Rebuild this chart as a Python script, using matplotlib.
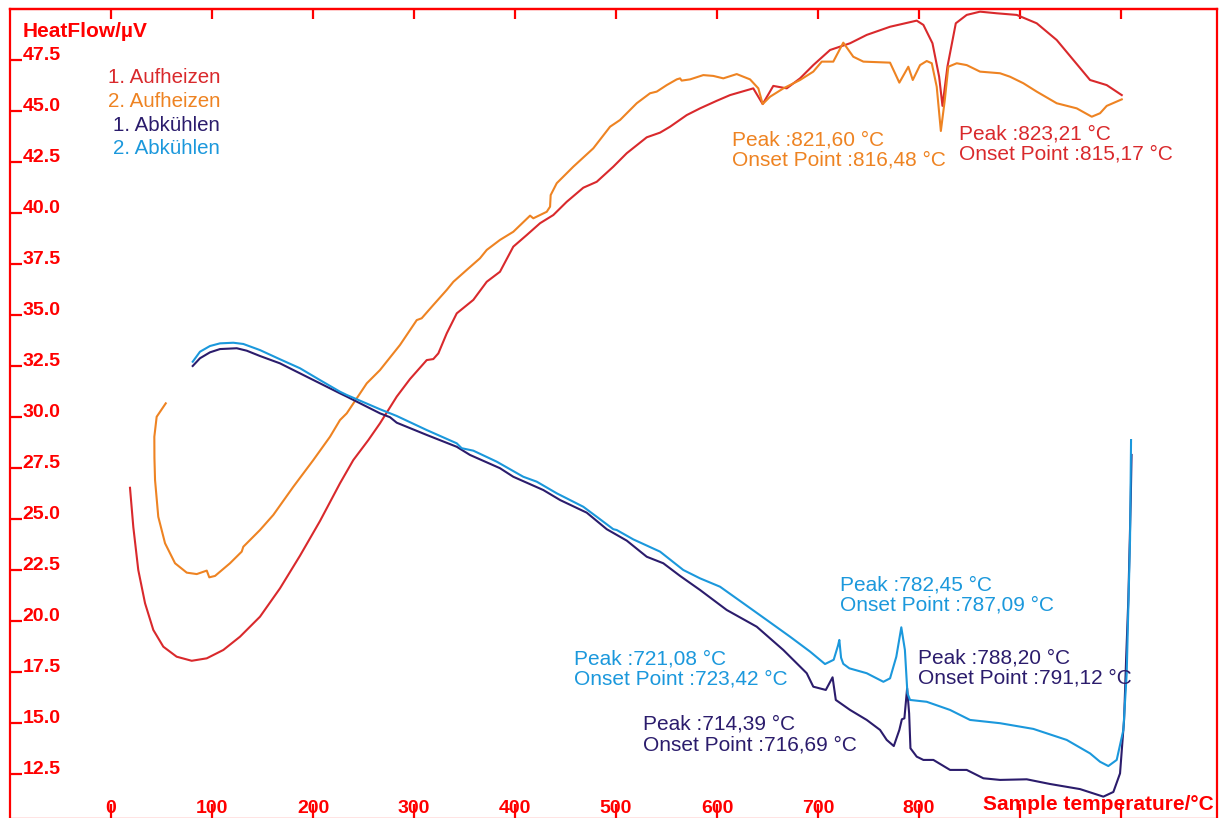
import matplotlib
matplotlib.use("Agg")
import matplotlib.pyplot as plt
import matplotlib.transforms as mtransforms

plt.rcParams['font.family'] = ['Liberation Sans', 'DejaVu Sans']

# ---- measurement data: sample temperature (°C) vs heat flow (µV) ----
heat1_T = [18.8, 22.1, 27.0, 33.7, 41.9, 51.8, 65.0, 79.9, 94.8, 111.2,
           127.7, 147.5, 167.3, 187.1, 206.9, 226.7, 239.9, 254.8, 266.3, 282.9,
           296.0, 312.6, 319.1, 324.1, 332.4, 342.3, 358.7, 372.0, 385.1, 398.3,
           411.6, 424.8, 437.9, 451.2, 467.6, 480.9, 497.3, 510.6, 530.4, 543.6,
           553.5, 570.0, 583.2, 599.7, 612.9, 635.9, 645.2, 655.7, 669.0, 682.2,
           695.3, 711.9, 731.7, 748.2, 771.3, 797.7, 804.3, 813.3, 819.9, 823.21,
           828.1, 836.4, 847.2, 860.4, 876.9, 896.7, 916.5, 936.3, 952.8, 969.3,
           985.8, 1000.7]
heat1_V = [26.53, 24.60, 22.50, 20.87, 19.56, 18.74, 18.25, 18.05, 18.17, 18.58,
           19.23, 20.21, 21.60, 23.20, 24.90, 26.75, 27.89, 28.87, 29.69, 31.00,
           31.86, 32.79, 32.84, 33.12, 34.10, 35.08, 35.74, 36.63, 37.12, 38.35,
           38.92, 39.50, 39.90, 40.55, 41.24, 41.53, 42.27, 42.93, 43.71, 43.94,
           44.23, 44.80, 45.13, 45.50, 45.78, 46.11, 45.34, 46.23, 46.11, 46.60,
           47.25, 47.99, 48.32, 48.73, 49.13, 49.43, 49.22, 48.32, 46.68, 45.25,
           47.17, 49.30, 49.71, 49.87, 49.79, 49.71, 49.30, 48.48, 47.50, 46.52,
           46.27, 45.78]

heat2_T = [54.2, 45.2, 42.9, 43.0, 43.6, 46.8, 53.5, 63.4, 75.0, 84.9,
           94.8, 97.3, 103.0, 117.8, 129.4, 131.0, 147.5, 160.7, 180.5, 200.3,
           216.8, 226.7, 233.4, 253.2, 266.3, 286.1, 302.7, 307.6, 319.1, 332.4,
           339.0, 352.2, 365.3, 372.0, 385.1, 398.3, 414.9, 418.1, 431.4, 434.7,
           435.3, 441.3, 457.7, 477.5, 494.1, 504.0, 520.5, 533.7, 540.3, 550.2,
           560.1, 563.4, 565.0, 573.3, 586.4, 596.3, 606.2, 619.5, 632.7, 640.9,
           645.2, 652.5, 665.7, 682.2, 695.3, 703.7, 715.1, 725.0, 734.9, 744.9,
           771.3, 776.2, 780.5, 789.4, 793.8, 801.0, 807.6, 812.6, 817.5, 821.60,
           825.5, 829.0, 837.3, 847.2, 860.4, 880.2, 890.1, 903.3, 916.5, 936.3,
           956.1, 971.0, 979.2, 985.8, 1000.7]
heat2_V = [30.67, 30.01, 29.03, 27.99, 26.91, 25.11, 23.81, 22.83, 22.37, 22.30,
           22.47, 22.14, 22.21, 22.83, 23.40, 23.64, 24.46, 25.20, 26.58, 27.89,
           29.03, 29.85, 30.18, 31.65, 32.30, 33.53, 34.75, 34.84, 35.49, 36.23,
           36.63, 37.21, 37.78, 38.19, 38.68, 39.08, 39.87, 39.74, 40.06, 40.31,
           40.88, 41.46, 42.27, 43.17, 44.23, 44.56, 45.38, 45.87, 45.95, 46.27,
           46.55, 46.60, 46.49, 46.55, 46.76, 46.72, 46.60, 46.81, 46.55, 46.11,
           45.34, 45.70, 46.11, 46.52, 46.93, 47.42, 47.42, 48.35, 47.66, 47.42,
           47.37, 46.85, 46.39, 47.17, 46.52, 47.25, 47.45, 47.34, 46.19, 44.02,
           45.54, 47.17, 47.34, 47.25, 46.93, 46.85, 46.68, 46.36, 45.95, 45.38,
           45.13, 44.72, 44.89, 45.25, 45.57]

cool1_T = [80.9, 88.1, 98.0, 107.9, 124.5, 134.4, 147.5, 167.3, 187.1, 206.9,
           226.7, 233.4, 266.3, 276.2, 282.9, 312.6, 342.3, 355.4, 385.1, 398.3,
           428.0, 444.6, 471.0, 490.8, 510.6, 530.4, 546.8, 563.4, 583.2, 609.6,
           639.3, 665.6, 688.8, 695.3, 707.7, 714.39, 717.6, 731.7, 748.2, 761.4,
           768.0, 775.0, 780.5, 783.0, 785.5, 788.20, 790.2, 791.5, 797.7, 804.3,
           814.2, 830.7, 847.2, 863.7, 880.2, 906.6, 929.7, 959.4, 982.5, 992.4,
           999.0, 1003.0, 1005.0, 1007.2, 1009.6, 1010.4]
cool1_V = [32.50, 32.88, 33.17, 33.33, 33.37, 33.25, 32.99, 32.63, 32.14, 31.65,
           31.16, 31.00, 30.18, 29.99, 29.72, 29.12, 28.54, 28.14, 27.49, 27.07,
           26.42, 25.93, 25.31, 24.50, 23.94, 23.15, 22.83, 22.21, 21.52, 20.54,
           19.72, 18.58, 17.44, 16.78, 16.62, 17.24, 16.13, 15.64, 15.15, 14.66,
           14.17, 13.87, 14.66, 15.18, 15.23, 16.70, 15.47, 13.76, 13.35, 13.19,
           13.19, 12.70, 12.70, 12.29, 12.21, 12.24, 12.01, 11.76, 11.39, 11.62,
           12.53, 15.15, 18.09, 21.03, 25.93, 28.14]

cool2_T = [80.9, 88.1, 98.0, 107.9, 121.1, 131.0, 147.5, 167.3, 187.1, 206.9,
           226.7, 233.4, 266.3, 282.9, 312.6, 342.3, 347.2, 358.7, 381.9, 408.2,
           421.5, 441.3, 467.6, 480.9, 497.3, 500.7, 517.1, 543.6, 566.6, 583.2,
           603.0, 626.0, 649.2, 672.3, 692.1, 706.9, 715.5, 719.8, 721.08, 722.8,
           725.0, 731.0, 748.2, 764.7, 771.3, 777.5, 782.45, 786.0, 788.5, 791.1,
           807.6, 830.7, 850.5, 880.2, 913.2, 946.2, 969.3, 979.2, 987.4, 995.7,
           1002.3, 1005.6, 1007.4, 1008.9, 1009.9]
cool2_V = [32.71, 33.20, 33.48, 33.61, 33.64, 33.58, 33.28, 32.83, 32.39, 31.81,
           31.24, 31.08, 30.38, 30.05, 29.36, 28.71, 28.47, 28.35, 27.81, 27.07,
           26.83, 26.26, 25.60, 25.11, 24.50, 24.46, 24.00, 23.40, 22.50, 22.09,
           21.68, 20.87, 20.05, 19.23, 18.50, 17.89, 18.10, 18.80, 19.07, 18.20,
           17.90, 17.68, 17.44, 17.02, 17.19, 18.25, 19.69, 18.58, 16.46, 16.13,
           16.04, 15.64, 15.15, 14.99, 14.71, 14.17, 13.51, 13.10, 12.89, 13.19,
           14.66, 17.44, 21.03, 23.97, 28.87]

series_names = ["1. Aufheizen", "2. Aufheizen", "1. Abkühlen", "2. Abkühlen"]
series_colors = ["#d9292c", "#ee8322", "#2b1c6c", "#1b98dc"]

# evaluated peaks: (peak °C, onset °C, label anchor T, label anchor V, series index)
peak_T = [821.60, 823.21, 782.45, 788.20, 721.08, 714.39]
onset_T = [816.48, 815.17, 787.09, 791.12, 723.42, 716.69]
label_T = [614.6, 839.9, 721.8, 798.7, 458.4, 526.7]
label_V = [43.30, 43.61, 21.49, 17.93, 17.87, 14.66]
label_series = [1, 0, 3, 2, 3, 2]

x_ticks = list(range(0, 1001, 100))
x_ticklabels = [str(t) for t in range(0, 801, 100)]
y_ticks = [12.5 + 2.5 * i for i in range(15)]

AXIS_RED = "#ff0000"

fig = plt.figure(figsize=(12.19, 8.18), dpi=100)
ax = fig.add_axes([10 / 1219, -1 / 818, 1207 / 1219, 810 / 818])
ax.set_xlim(-100, 1095)
ax.set_ylim(10.294, 50.0)

curves = [(heat1_T, heat1_V), (heat2_T, heat2_V), (cool1_T, cool1_V), (cool2_T, cool2_V)]
for (tt, vv), col in zip(curves, series_colors):
    ax.plot(tt, vv, color=col, lw=1.5, solid_joinstyle="round")

for s in ax.spines.values():
    s.set_color(AXIS_RED)
    s.set_linewidth(1.6)

ax.set_xticks(x_ticks)
ax.set_yticks(y_ticks)
ax.tick_params(axis="x", direction="in", length=11, width=1.6, color=AXIS_RED,
               bottom=True, top=False, labelbottom=False)
ax.tick_params(axis="y", direction="in", length=8.6, width=1.6, color=AXIS_RED,
               left=True, right=False, labelleft=False)

top = ax.secondary_xaxis("top")
top.set_xticks(x_ticks)
top.tick_params(direction="in", length=7.2, width=1.6, color=AXIS_RED, labeltop=False)
top.spines["top"].set_color(AXIS_RED)
top.spines["top"].set_linewidth(1.6)

# tick labels drawn inside the frame
ytrans = mtransforms.blended_transform_factory(ax.transAxes, ax.transData)
for v in y_ticks:
    ax.text(0.0105, v, f"{v:.1f}", transform=ytrans, ha="left", va="baseline",
            color=AXIS_RED, fontsize=14, fontweight="bold")
xtrans = mtransforms.blended_transform_factory(ax.transData, ax.transAxes)
for t in x_ticklabels:
    ax.text(float(t), 0.008, t, transform=xtrans, ha="center", va="baseline",
            color=AXIS_RED, fontsize=14, fontweight="bold")

ax.text(0.0105, 0.9654, "HeatFlow/µV", transform=ax.transAxes, ha="left",
        va="baseline", color=AXIS_RED, fontsize=15, fontweight="bold")
ax.text(0.9969, 0.0111, "Sample temperature/°C", transform=ax.transAxes, ha="right",
        va="baseline", color=AXIS_RED, fontsize=15, fontweight="bold")

# series captions
legend_y = [0.909, 0.8794, 0.8498, 0.8206]
for name, col, yy in zip(series_names, series_colors, legend_y):
    ax.text(0.174, yy, name, transform=ax.transAxes, ha="right", va="baseline",
            color=col, fontsize=14.8)

# peak evaluation labels
line2 = mtransforms.offset_copy(ax.transData, fig=fig, x=0, y=-20.3, units="dots")
for pk, on, tx, ty, si in zip(peak_T, onset_T, label_T, label_V, label_series):
    col = series_colors[si]
    pk_s = f"{pk:.2f}".replace(".", ",")
    on_s = f"{on:.2f}".replace(".", ",")
    ax.text(tx, ty, f"Peak :{pk_s} °C", ha="left", va="baseline", color=col, fontsize=15)
    ax.text(tx, ty, f"Onset Point :{on_s} °C", transform=line2, ha="left",
            va="baseline", color=col, fontsize=15)

fig.savefig("out.png", dpi=100)
